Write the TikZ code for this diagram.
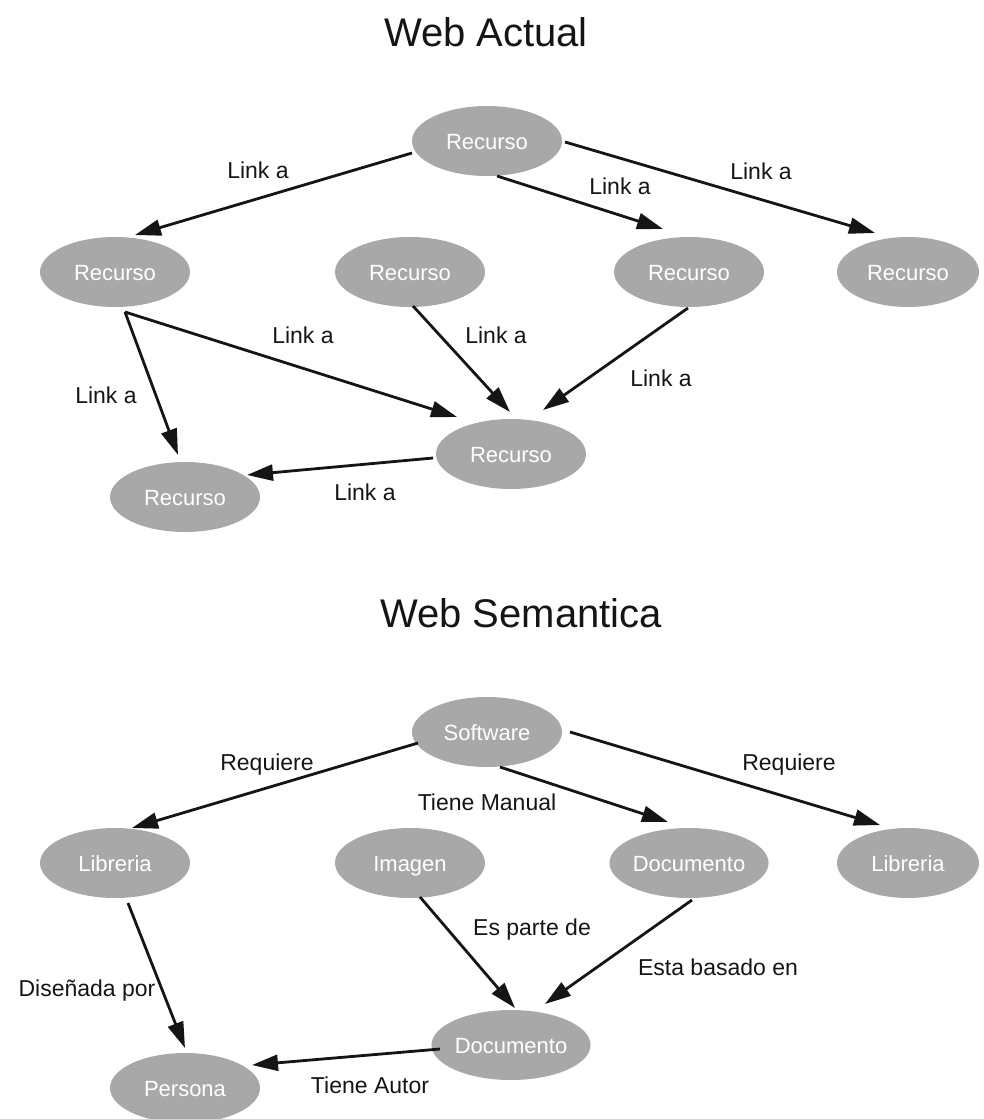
\documentclass[tikz,border=0pt]{standalone}
\usepackage{fontspec}
\setmainfont{Liberation Sans}
\usetikzlibrary{arrows.meta,shapes.geometric,calc}
\definecolor{nodegray}{HTML}{A9A8A8}
\definecolor{inkblack}{HTML}{151515}
\begin{document}
\begin{tikzpicture}[x=1pt,y=-1pt,
  res/.style={ellipse, fill=nodegray, minimum width=150pt, minimum height=70pt, inner sep=0pt, text=white, text height=16pt, text depth=0pt, font=\fontsize{22}{24}\selectfont},
  lbl/.style={anchor=base, text=inkblack, font=\fontsize{23}{26}\selectfont, inner sep=0pt},
  ttl/.style={anchor=base, text=inkblack, font=\fontsize{40}{46}\selectfont, inner sep=0pt},
  link/.style={line width=2.8pt, draw=inkblack, -{Triangle[length=26pt,width=16pt]}}]
\useasboundingbox (0,0) rectangle (984,1119);

% ---------- Web Actual ----------
\node[ttl] (t1) at (486,46) {Web Actual};
\node[res] (R0) at (487,141) {Recurso};
\node[res] (R1) at (115,272) {Recurso};
\node[res] (R2) at (410,272) {Recurso};
\node[res] (R3) at (689,272) {Recurso};
\node[res, minimum width=142pt] (R4) at (908,272) {Recurso};
\node[res] (R5) at (511,454) {Recurso};
\node[res] (R6) at (185,497) {Recurso};

\draw[link] ($(R0)+(-75,12)$) -- ($(R1)+(20,-37)$);
\draw[link] ($(R0)+(10,35)$) -- ($(R3)+(-26,-43)$);
\draw[link] ($(R0)+(78,1)$) -- ($(R4)+(-33,-39)$);
\draw[link] ($(R1)+(10,40)$) -- ($(R6)+(-7,-42)$);
\draw[link] ($(R1)+(10,40)$) -- ($(R5)+(-54,-37)$);
\draw[link] ($(R2)+(3,34)$) -- ($(R5)+(-1,-42)$);
\draw[link] ($(R3)+(-1,36)$) -- ($(R5)+(32,-44)$);
\draw[link] ($(R5)+(-78,4)$) -- ($(R6)+(62,-22)$);

\node[lbl] (l1) at (258,178) {Link a};
\node[lbl] (l2) at (620,194) {Link a};
\node[lbl] (l3) at (761,179) {Link a};
\node[lbl] (l4) at (106,403) {Link a};
\node[lbl] (l5) at (303,343) {Link a};
\node[lbl] (l6) at (496,343) {Link a};
\node[lbl] (l7) at (661,386) {Link a};
\node[lbl] (l8) at (365,500) {Link a};

% ---------- Web Semantica ----------
\node[ttl] (t2) at (521,627) {Web Semantica};
\node[res] (S) at (487,732) {Software};
\node[res] (L1) at (115,863) {Libreria};
\node[res] (Im) at (410,863) {Imagen};
\node[res] (D1) at (689,863) {Documento};
\node[res, minimum width=142pt] (L2) at (908,863) {Libreria};
\node[res] (D2) at (511,1045) {Documento};
\node[res] (P) at (185,1088) {Persona};

\draw[link] ($(S)+(-69,11)$) -- ($(L1)+(17,-35)$);
\draw[link] ($(S)+(13,35)$) -- ($(D1)+(-21,-41)$);
\draw[link] ($(S)+(83,0)$) -- ($(L2)+(-28,-38)$);
\draw[link] ($(L1)+(13,40)$) -- ($(P)+(0,-40)$);
\draw[link] ($(Im)+(10,34)$) -- ($(D2)+(4,-37)$);
\draw[link] ($(D1)+(3,37)$) -- ($(D2)+(34,-41)$);
\draw[link] ($(D2)+(-71,4)$) -- ($(P)+(67,-23)$);

\node[lbl] (m1) at (267,770) {Requiere};
\node[lbl] (m2) at (487,810) {Tiene Manual};
\node[lbl] (m3) at (789,770) {Requiere};
\node[lbl] (m4) at (87,996) {Diseñada por};
\node[lbl] (m5) at (532,935) {Es parte de};
\node[lbl] (m6) at (718,975) {Esta basado en};
\node[lbl] (m7) at (370,1093) {Tiene Autor};
\end{tikzpicture}
\end{document}
